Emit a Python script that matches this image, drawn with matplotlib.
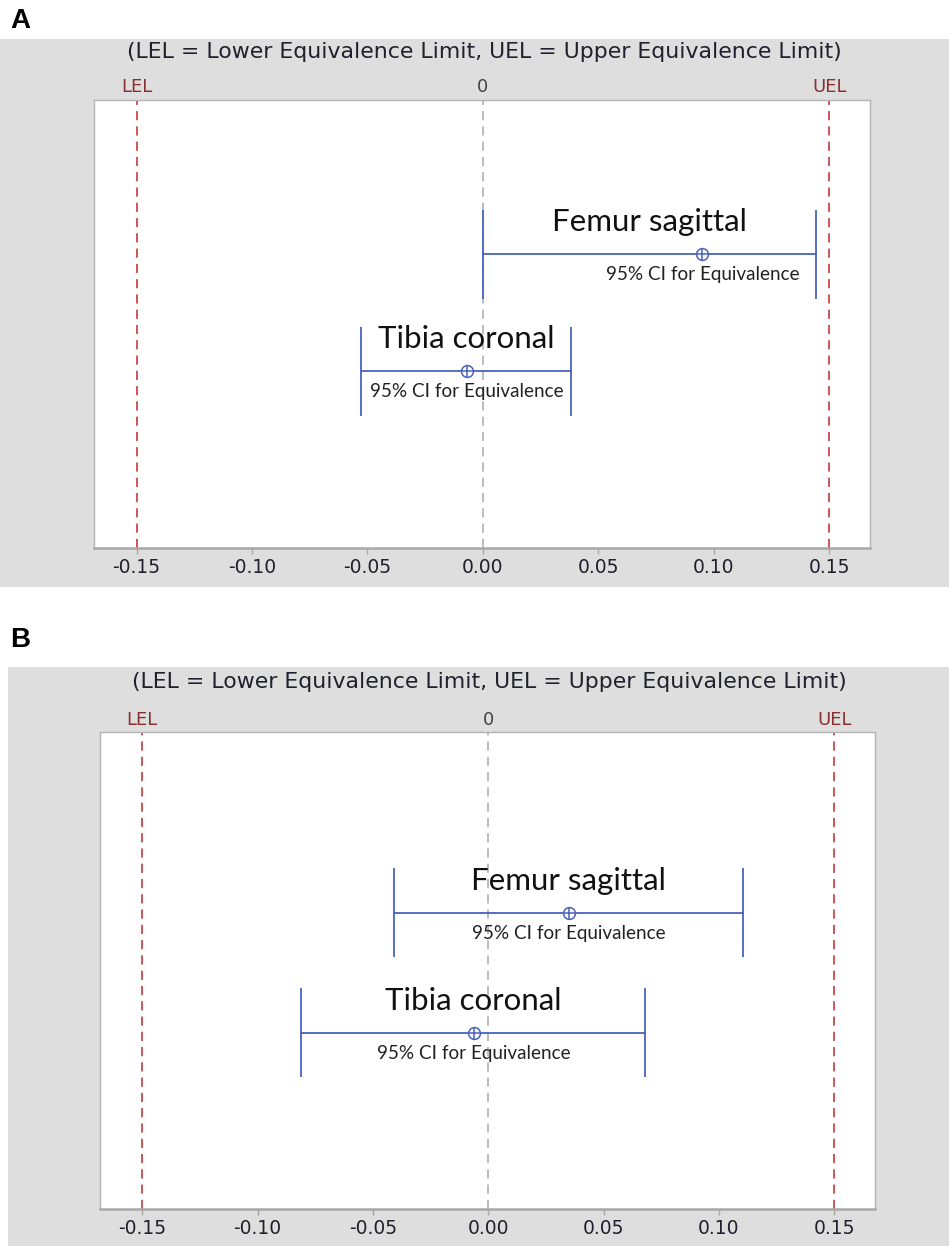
import numpy as np
import matplotlib
matplotlib.use("Agg")
import matplotlib.pyplot as plt
from matplotlib.patches import Rectangle

# %% data
groups = ["Femur sagittal", "Tibia coronal"]
ci_tag = "95% CI for Equivalence"
lel, uel = -0.15, 0.15

# panel A
est_a = [0.0951, -0.0069]
lo_a = [0.0, -0.0527]
hi_a = [0.1444, 0.0380]

# panel B
est_b = [0.0351, -0.0061]
lo_b = [-0.0407, -0.0812]
hi_b = [0.1105, 0.0679]

xticks = [-0.15, -0.10, -0.05, 0.00, 0.05, 0.10, 0.15]
title = "(LEL = Lower Equivalence Limit, UEL = Upper Equivalence Limit)"

W, H = 949, 1246
GRAY = "#dedede"
BLUE = "#4a62bd"
RED = "#c0282d"
DRED = "#8a3030"
TXT = "#20202e"

fig = plt.figure(figsize=(W / 100, H / 100), dpi=100)


def px_box(x0, y0, x1, y1):
    # pixel box (top-left origin) -> figure fraction [l, b, w, h]
    return [x0 / W, 1 - y1 / H, (x1 - x0) / W, (y1 - y0) / H]


def panel(letter, box, gray, ylim, est, lo, hi, letter_y, title_y):
    gx0, gy0, gx1, gy1 = gray
    fig.patches.append(Rectangle((gx0 / W, 1 - gy1 / H), (gx1 - gx0) / W, (gy1 - gy0) / H,
                                 transform=fig.transFigure, facecolor=GRAY, edgecolor="none",
                                 zorder=-5))
    fig.text(10 / W, 1 - letter_y / H, letter, fontsize=20, fontweight="bold",
             family="Liberation Sans", va="center", ha="left")
    fig.text((box[0] + box[2]) / 2 / W + 0.002, 1 - title_y / H, title, ha="center",
             va="center", fontsize=15.8, color=TXT)

    ax = fig.add_axes(px_box(*box))
    ax.set_facecolor("white")
    ax.set_xlim(-0.1683, 0.1677)
    ax.set_ylim(*ylim)
    ax.set_yticks([])
    for s in ax.spines.values():
        s.set_color("#b4b4b4")
        s.set_linewidth(1.0)
    ax.spines["bottom"].set_color("#a8a8a8")
    ax.spines["bottom"].set_linewidth(1.8)

    ax.set_xticks(xticks)
    ax.set_xticklabels([f"{t:.2f}" for t in xticks])
    ax.tick_params(axis="x", direction="out", length=4, width=1, color="#a8a8a8",
                   labelsize=13.5, labelcolor=TXT, pad=3)

    # limit lines
    for xv, lab, col, lcol in [(lel, "LEL", RED, DRED), (0.0, "0", "#a9a9a9", "#444444"),
                               (uel, "UEL", RED, DRED)]:
        ax.axvline(xv, color=col, lw=1.1, ls=(0, (6, 4)), zorder=1)
        ax.annotate(lab, xy=(xv, 1), xycoords=("data", "axes fraction"), xytext=(0, 9),
                    textcoords="offset points", ha="center", va="center", fontsize=13,
                    color=lcol, annotation_clip=False)

    ypos = [2, 1]
    cap = 0.38 * 117 / (ax.bbox.height / (ylim[1] - ylim[0]))
    for i, g in enumerate(groups):
        y = ypos[i]
        ax.plot([lo[i], hi[i]], [y, y], color=BLUE, lw=1.3, zorder=3)
        ax.vlines([lo[i], hi[i]], y - cap, y + cap, color=BLUE, lw=1.3, zorder=3)
        ax.plot(est[i], y, marker="o", ms=8.5, mfc="white", mec=BLUE, mew=1.1, zorder=4)
        ax.plot(est[i], y, marker="+", ms=8.5, mec=BLUE, mew=1.1, zorder=5)
        ax.annotate(g, xy=((lo[i] + hi[i]) / 2, y), xytext=(0, 23), textcoords="offset points",
                    ha="center", va="center", fontsize=22.5, family="Lato", color="#111111")
        ax.annotate(ci_tag, xy=(est[i], y), xytext=(0, -15), textcoords="offset points",
                    ha="center", va="center", fontsize=13.6, family="Lato", color="#222222")
    return ax


ax_a = panel("A", (94.3, 100, 870, 548.3), (0, 39.3, W, 586.7), (-0.513, 3.316),
             est_a, lo_a, hi_a, 21, 51.7)
ax_b = panel("B", (100, 732.3, 875, 1209), (8, 666.7, W, H), (-0.469, 3.503),
             est_b, lo_b, hi_b, 640, 681.7)

fig.savefig("out.png", dpi=100)
